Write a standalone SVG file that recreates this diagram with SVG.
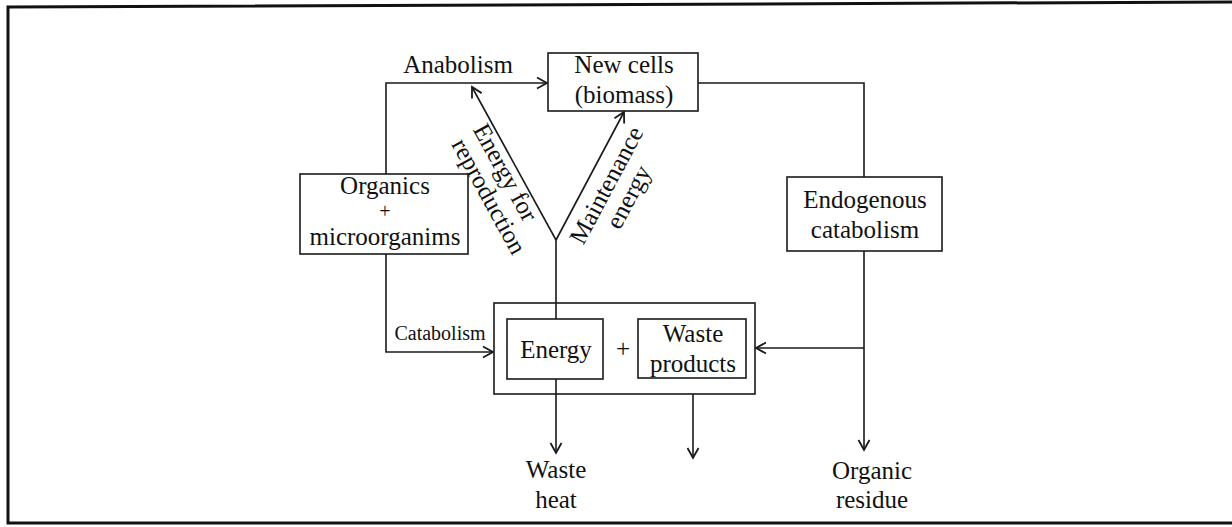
<svg xmlns="http://www.w3.org/2000/svg" width="1232" height="527" viewBox="0 0 1232 527">
  <style>
    .box { fill: #ffffff; stroke: #1a1a1a; stroke-width: 1.6; }
    .line { fill: none; stroke: #1a1a1a; stroke-width: 1.6; }
    .frame { fill: none; stroke: #111111; stroke-width: 3; }
    text { font-family: "Liberation Serif", "Times New Roman", serif; font-size: 25px; fill: #111111; text-anchor: middle; }
    .small { font-size: 20px; }
  </style>
  <defs>
    <marker id="arr" markerUnits="userSpaceOnUse" markerWidth="14" markerHeight="14" viewBox="0 0 14 14" refX="12" refY="7" orient="auto">
      <path d="M2,1.5 L12,7 L2,12.5" fill="none" stroke="#1a1a1a" stroke-width="1.8"/>
    </marker>
  </defs>

  <rect width="1232" height="527" fill="#ffffff"/>
  <path class="frame" d="M1232,2 L8,7 L8,523 L1232,523"/>

  <g id="connectors">
    <path class="line" d="M386,174 V83 H547" marker-end="url(#arr)"/>
    <path class="line" d="M386,254 V352 H493" marker-end="url(#arr)"/>
    <path class="line" d="M698,83 H864 V177"/>
    <path class="line" d="M864,251 V450" marker-end="url(#arr)"/>
    <path class="line" d="M864,348 H756" marker-end="url(#arr)"/>
    <path class="line" d="M556,319 V240"/>
    <path class="line" d="M556,240 L472,87" marker-end="url(#arr)"/>
    <path class="line" d="M556,240 L624,112" marker-end="url(#arr)"/>
    <path class="line" d="M556,379 V453" marker-end="url(#arr)"/>
    <path class="line" d="M693,378 V458" marker-end="url(#arr)"/>
    <text x="458" y="73">Anabolism</text>
    <text class="small" x="440" y="340">Catabolism</text>
    <g transform="translate(472,87) rotate(61.2)">
      <text x="91" y="20">Energy for</text>
      <text x="104" y="46">reproduction</text>
    </g>
    <g transform="translate(556,240) rotate(-62)">
      <text x="72" y="27">Maintenance</text>
      <text x="72" y="52">energy</text>
    </g>
  </g>

  <g id="new-cells">
    <rect class="box" x="548" y="53" width="150" height="58"/>
    <text x="624" y="73">New cells</text>
    <text x="624" y="103">(biomass)</text>
  </g>

  <g id="organics">
    <rect class="box" x="300" y="174" width="168" height="80"/>
    <text x="385" y="194">Organics</text>
    <text class="small" x="385" y="218">+</text>
    <text x="385" y="245">microorganims</text>
  </g>

  <g id="endogenous">
    <rect class="box" x="787" y="177" width="155" height="74"/>
    <text x="865" y="208">Endogenous</text>
    <text x="865" y="238">catabolism</text>
  </g>

  <g id="products">
    <rect class="box" x="494" y="303" width="261" height="91" fill="none"/>
    <g id="energy">
      <rect class="box" x="507" y="319" width="96" height="60"/>
      <text x="556" y="358">Energy</text>
    </g>
    <text x="623" y="357">+</text>
    <g id="waste-products">
      <rect class="box" x="638" y="319" width="108" height="59"/>
      <text x="693" y="342">Waste</text>
      <text x="693" y="372">products</text>
    </g>
  </g>
  <path class="line" d="M556,303 V319 M556,379 V394"/>

  <g id="waste-heat">
    <text x="556" y="478">Waste</text>
    <text x="556" y="508">heat</text>
  </g>

  <g id="organic-residue">
    <text x="872" y="479">Organic</text>
    <text x="872" y="508">residue</text>
  </g>
</svg>
